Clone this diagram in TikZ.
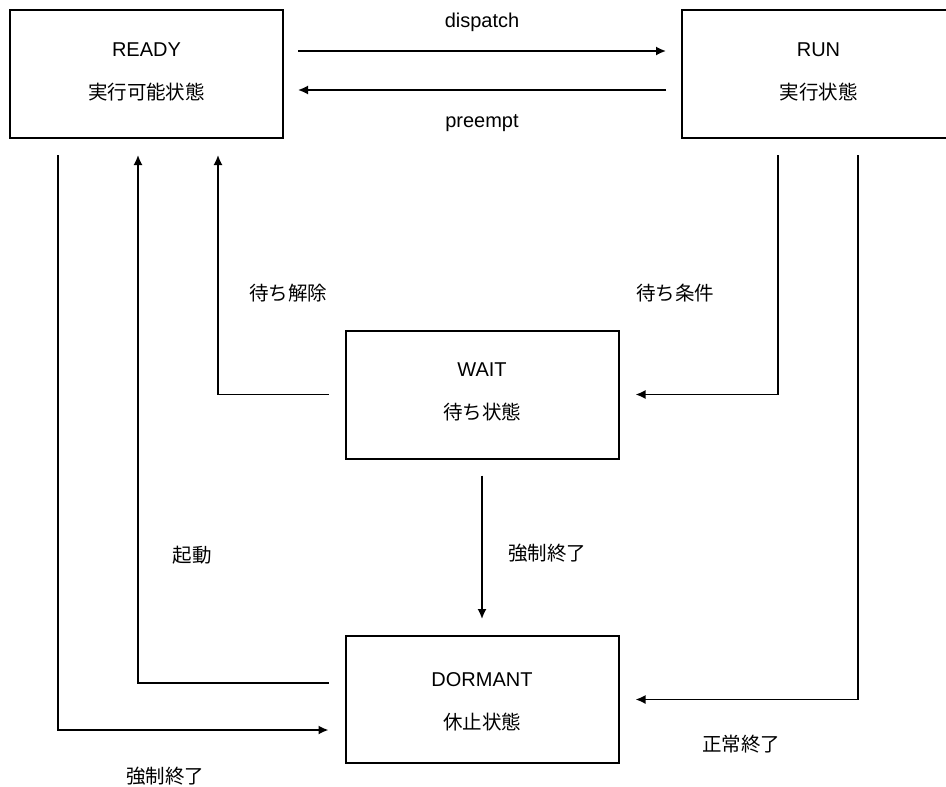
\documentclass[tikz,border=0pt]{standalone}
\usepackage{fontspec}
\setmainfont{Liberation Sans}
\newfontfamily\jpfont{Noto Sans CJK JP}
\usetikzlibrary{arrows.meta}
\begin{document}
\begin{tikzpicture}[x=1pt,y=-1pt,
  box/.style={draw, line width=2pt, minimum width=273pt, minimum height=128pt, inner sep=0pt},
  lat/.style={inner sep=0pt, font=\fontsize{20}{24}\selectfont},
  jtxt/.style={inner sep=0pt, font=\fontsize{19.5}{24}\jpfont},
  conn/.style={line width=1.7pt, shorten <=16pt, shorten >=16pt},
  arr/.style={conn, -{Latex[length=10pt,width=9pt]}}]
\useasboundingbox (0,0) rectangle (946,787);
\fill[white] (0,0) rectangle (946,787);
% boxes
\node[box] (ready) at (146.5,74) {};
\node[box] (run) at (818.5,74) {};
\node[box] (wait) at (482,394.5) {};
\node[box, minimum height=127pt] (dormant) at (482,699.5) {};
% box texts
\node[lat] (readyA) at (146.5,50) {READY};
\node[jtxt] (readyB) at (146.5,92) {実行可能状態};
\node[lat] (runA) at (818.5,50) {RUN};
\node[jtxt] (runB) at (818.5,92) {実行状態};
\node[lat] (waitA) at (482,370) {WAIT};
\node[jtxt] (waitB) at (482,412) {待ち状態};
\node[lat] (dormA) at (482,680) {DORMANT};
\node[jtxt] (dormB) at (482,722) {休止状態};
% connectors
\draw[arr, shorten <=14pt, shorten >=15pt] ([yshift=23pt]ready.east) -- ([yshift=23pt]run.west);
\draw[arr, shorten <=15pt, shorten >=14pt] ([yshift=-16pt]run.west) -- ([yshift=-16pt]ready.east);
\draw[arr] ([xshift=-88.5pt]ready.south) |- ([yshift=-30.5pt]dormant.west);
\draw[arr] ([yshift=16.5pt]dormant.west) -| ([xshift=-8.5pt]ready.south);
\draw[arr] (wait.west) -| ([xshift=71.5pt]ready.south);
\draw[arr] ([xshift=-40.5pt]run.south) |- (wait.east);
\draw[arr] ([xshift=39.5pt]run.south) |- (dormant.east);
\draw[arr] (wait.south) -- (dormant.north);
% labels
\node[lat] (lDispatch) at (482,22) {dispatch};
\node[lat] (lPreempt) at (482,123) {preempt};
\node[jtxt] (lRelease) at (288,293) {待ち解除};
\node[jtxt] (lCond) at (675,293) {待ち条件};
\node[jtxt] (lStart) at (192,555) {起動};
\node[jtxt] (lKill1) at (547,553) {強制終了};
\node[jtxt] (lNormal) at (741,744) {正常終了};
\node[jtxt] (lKill2) at (165,776) {強制終了};
\end{tikzpicture}
\end{document}
